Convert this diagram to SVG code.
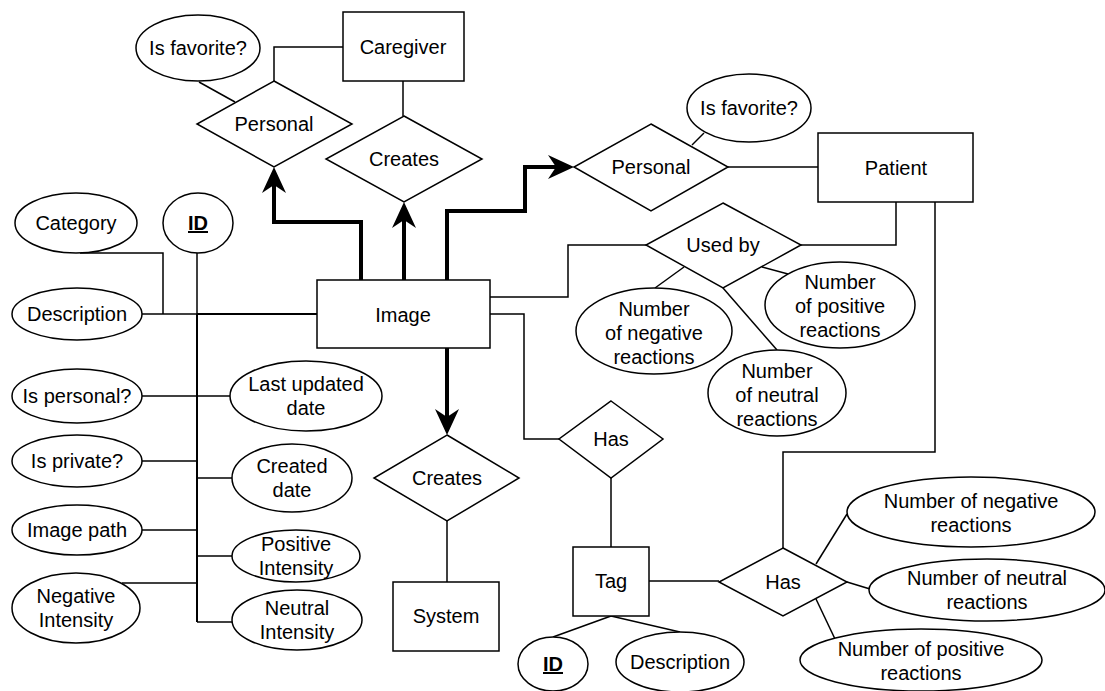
<svg xmlns="http://www.w3.org/2000/svg" width="1105" height="691" viewBox="0 0 1105 691">
<style>
.c{fill:none;stroke:#000;stroke-width:1.5}
.w{fill:none;stroke:#000;stroke-width:2}
.t{fill:none;stroke:#000;stroke-width:4;marker-end:url(#ah)}
.n{fill:#fff;stroke:#000;stroke-width:1.5}
text{font-family:"Liberation Sans",Arial,sans-serif;font-size:20px;text-anchor:middle;fill:#000}
.k{font-weight:bold;text-decoration:underline}
</style>
<defs>
<marker id="ah" markerUnits="userSpaceOnUse" markerWidth="26" markerHeight="24" viewBox="0 0 26 24" refX="18" refY="12" orient="auto">
<path d="M0,0 L26,12 L0,24 L8,12 Z" fill="#000"/>
</marker>
</defs>
<g id="connectors">
<path class="c" d="M343,47 H274 V81"/>
<path class="c" d="M199,82 L235,102"/>
<path class="c" d="M403,81 V116"/>
<path class="c" d="M692,145 L704,133"/>
<path class="c" d="M728,167 H818"/>
<path class="c" d="M801,245 H896 V202"/>
<path class="c" d="M490,297 H568 V245 H646"/>
<path class="c" d="M935,202 V452 H783 V548"/>
<path class="c" d="M490,314 H524 V439 H559"/>
<path class="c" d="M611,478 V547"/>
<path class="c" d="M447,521 V582"/>
<path class="c" d="M611,616 L553,637"/>
<path class="c" d="M611,616 L680,632"/>
<path class="c" d="M649,581 H719"/>
<path class="c" d="M655,288 L684,267"/>
<path class="c" d="M723,288 L777,350"/>
<path class="c" d="M762,267 L788,274"/>
<path class="c" d="M816,564 L847,514"/>
<path class="c" d="M847,582 L870,589"/>
<path class="c" d="M816,599 L835,639"/>
<path class="c" d="M80,253 H163 V314"/>
<path class="c" d="M197,253 V314"/>
<path class="c" d="M142,314 H197"/>
<path class="w" d="M197,314 H317"/>
<path class="w" d="M197,314 V622"/>
<path class="c" d="M142,396 H230"/>
<path class="c" d="M142,461 H197"/>
<path class="c" d="M197,478 H232"/>
<path class="c" d="M142,530 H197"/>
<path class="c" d="M197,556 H232"/>
<path class="c" d="M122,583 H197"/>
<path class="c" d="M197,622 H232"/>
<path class="t" d="M361,280 V222 H274 V175"/>
<path class="t" d="M404,280 V210"/>
<path class="t" d="M447,280 V211 H525 V167 H566"/>
<path class="t" d="M447,348 V427"/>
</g>
<g id="caregiver"><rect class="n" x="343" y="12" width="121" height="69"/><text x="403" y="54">Caregiver</text></g>
<g id="fav1"><ellipse class="n" cx="198" cy="48" rx="62" ry="33"/><text x="198" y="55">Is favorite?</text></g>
<g id="personal1"><polygon class="n" points="274,81 352,124 274,167 197,124"/><text x="274" y="131">Personal</text></g>
<g id="creates1"><polygon class="n" points="404,116 482,159 404,202 326,159"/><text x="404" y="166">Creates</text></g>
<g id="personal2"><polygon class="n" points="651,124 728,167 651,211 574,167"/><text x="651" y="174">Personal</text></g>
<g id="fav2"><ellipse class="n" cx="749" cy="108" rx="62" ry="34"/><text x="749" y="115">Is favorite?</text></g>
<g id="patient"><rect class="n" x="818" y="133" width="155" height="69"/><text x="896" y="175">Patient</text></g>
<g id="usedby"><polygon class="n" points="723,203 801,245 723,288 646,245"/><text x="723" y="252">Used by</text></g>
<g id="ub-neg"><ellipse class="n" cx="654" cy="331" rx="78" ry="43"/><text x="654" y="316">Number</text><text x="654" y="340">of negative</text><text x="654" y="364">reactions</text></g>
<g id="ub-pos"><ellipse class="n" cx="840" cy="305" rx="75" ry="43"/><text x="840" y="289">Number</text><text x="840" y="313">of positive</text><text x="840" y="337">reactions</text></g>
<g id="ub-neu"><ellipse class="n" cx="777" cy="393" rx="69" ry="43"/><text x="777" y="378">Number</text><text x="777" y="402">of neutral</text><text x="777" y="426">reactions</text></g>
<g id="image"><rect class="n" x="317" y="280" width="173" height="68"/><text x="403" y="322">Image</text></g>
<g id="creates2"><polygon class="n" points="447,435 519,478 447,521 374,478"/><text x="447" y="485">Creates</text></g>
<g id="system"><rect class="n" x="393" y="582" width="106" height="69"/><text x="446" y="623">System</text></g>
<g id="has1"><polygon class="n" points="611,401 663,439 611,478 559,439"/><text x="611" y="446">Has</text></g>
<g id="tag"><rect class="n" x="573" y="547" width="76" height="69"/><text x="611" y="588">Tag</text></g>
<g id="tag-id"><ellipse class="n" cx="553" cy="664" rx="35" ry="27"/><text class="k" x="553" y="671">ID</text></g>
<g id="tag-desc"><ellipse class="n" cx="680" cy="662" rx="64" ry="30"/><text x="680" y="669">Description</text></g>
<g id="has2"><polygon class="n" points="783,548 847,582 783,616 719,582"/><text x="783" y="589">Has</text></g>
<g id="h-neg"><ellipse class="n" cx="971" cy="512" rx="124" ry="35"/><text x="971" y="508">Number of negative</text><text x="971" y="532">reactions</text></g>
<g id="h-neu"><ellipse class="n" cx="987" cy="590" rx="118" ry="31"/><text x="987" y="585">Number of neutral</text><text x="987" y="609">reactions</text></g>
<g id="h-pos"><ellipse class="n" cx="921" cy="660" rx="121" ry="31"/><text x="921" y="656">Number of positive</text><text x="921" y="680">reactions</text></g>
<g id="category"><ellipse class="n" cx="76" cy="223" rx="61" ry="30"/><text x="76" y="230">Category</text></g>
<g id="img-id"><ellipse class="n" cx="198" cy="223" rx="35" ry="30"/><text class="k" x="198" y="230">ID</text></g>
<g id="description"><ellipse class="n" cx="77" cy="314" rx="65" ry="26"/><text x="77" y="321">Description</text></g>
<g id="ispersonal"><ellipse class="n" cx="77" cy="396" rx="65" ry="27"/><text x="77" y="403">Is personal?</text></g>
<g id="lastupdated"><ellipse class="n" cx="306" cy="396" rx="76" ry="35"/><text x="306" y="391">Last updated</text><text x="306" y="415">date</text></g>
<g id="isprivate"><ellipse class="n" cx="77" cy="461" rx="65" ry="26"/><text x="77" y="468">Is private?</text></g>
<g id="created"><ellipse class="n" cx="292" cy="478" rx="60" ry="34"/><text x="292" y="473">Created</text><text x="292" y="497">date</text></g>
<g id="imagepath"><ellipse class="n" cx="77" cy="530" rx="65" ry="25"/><text x="77" y="537">Image path</text></g>
<g id="posint"><ellipse class="n" cx="296" cy="556" rx="64" ry="26"/><text x="296" y="551">Positive</text><text x="296" y="575">Intensity</text></g>
<g id="negint"><ellipse class="n" cx="76" cy="608" rx="64" ry="35"/><text x="76" y="603">Negative</text><text x="76" y="627">Intensity</text></g>
<g id="neuint"><ellipse class="n" cx="297" cy="620" rx="65" ry="30"/><text x="297" y="615">Neutral</text><text x="297" y="639">Intensity</text></g>
</svg>
